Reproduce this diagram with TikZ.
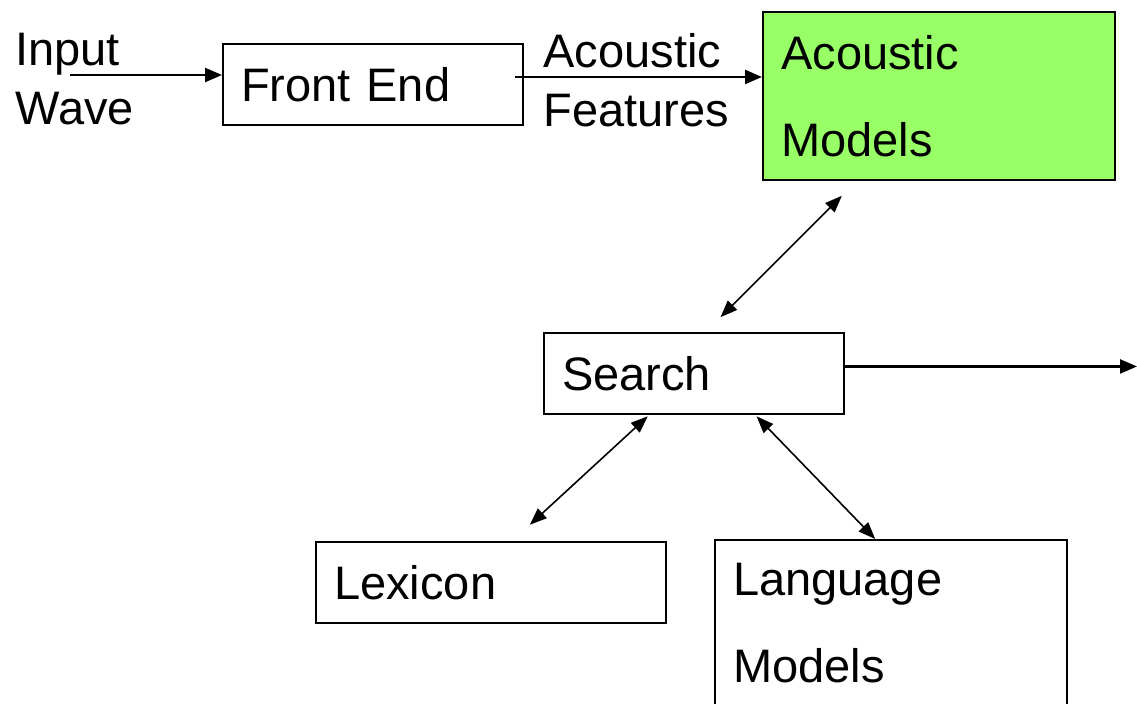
\documentclass[tikz,border=0pt]{standalone}
\usepackage{fontspec}
\setmainfont{Liberation Sans}
\usetikzlibrary{arrows.meta}
\definecolor{modelgreen}{HTML}{99FF66}

\begin{document}
\begin{tikzpicture}
[x=0.5pt,y=-0.5pt,%
  >={Triangle[length=8.5pt,width=7pt]},%
  box/.style={draw,line width=1.2pt,anchor=north west,inner xsep=9pt,inner ysep=11.5pt,%
    align=left,text width=#1,font=\fontsize{23.5}{43.5}\selectfont},%
  label/.style={inner sep=0pt,anchor=north west,align=left,font=\fontsize{23.5}{29.5}\selectfont},%
  flow/.style={->,line width=1.2pt},%
  link/.style={<->,line width=0.8pt,>={Triangle[length=8.5pt,width=6.5pt]}}]
\useasboundingbox (0,0) rectangle (1137,703);
\clip (0,0) rectangle (1137,703);
%%
\node[label] (wave) at (15,33) {Input\\Wave};
\node[box=132pt] (front) at (222,43) {Front End};
\node[label] (features) at (543,33) {Acoustic\\Features};
\node[box=158pt,fill=modelgreen] (acoustic) at (762,11) {Acoustic\\Models};
%%
\node[box=132pt] (search) at (543,332) {Search};
%%
\node[box=157pt] (lexicon) at (315,541) {Lexicon};
\node[box=158pt] (language) at (714,539) {Language\\Models};
%%
\coordinate (inStart) at (70,75);
\coordinate (outEnd) at (1137,364);
\draw[flow] (inStart) -- (inStart -| front.west);
\draw[flow] ([shift={(-4.5pt,3.75pt)}]front.east) -- ([yshift=3.75pt]front.east -| acoustic.west);
\draw[flow] ([yshift=3.5pt]search.east) -- ([yshift=3.5pt]search.east -| outEnd);
%%
\draw[link,shorten <=10.5pt,shorten >=10.5pt] ([xshift=5.75pt]search.north) -- ([xshift=-41.25pt]acoustic.south);
\draw[link,shorten <=1pt,shorten >=12pt] ([xshift=-22.5pt]search.south) -- ([xshift=10.5pt]lexicon.north);
\draw[link,shorten <=1pt] ([xshift=30.5pt]search.south) -- ([xshift=-8pt]language.north);
\end{tikzpicture}
\end{document}
